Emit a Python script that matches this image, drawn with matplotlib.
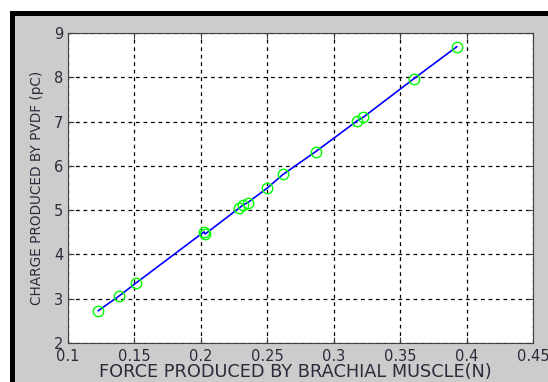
import numpy as np
import matplotlib.pyplot as plt
from matplotlib.patches import Rectangle

# force (N) vs charge (pC) measured on the PVDF sensor
force = [0.1228, 0.1384, 0.1512, 0.2024, 0.2032, 0.2285, 0.2320, 0.2353,
         0.2496, 0.2620, 0.2864, 0.3178, 0.3223, 0.3604, 0.3926]
charge = [2.73, 3.06, 3.355, 4.51, 4.46, 5.04, 5.12, 5.17,
          5.49, 5.81, 6.32, 7.02, 7.10, 7.97, 8.69]

xticks = [0.1, 0.15, 0.2, 0.25, 0.3, 0.35, 0.4, 0.45]
xticklabels = ['0.1', '0.15', '0.2', '0.25', '0.3', '0.35', '0.4', '0.45']
yticks = [2, 3, 4, 5, 6, 7, 8, 9]

plt.rcParams['font.family'] = ['DejaVu Sans']
txt = '#2b2b3b'

W, H = 548, 382
fig = plt.figure(figsize=(W / 100, H / 100), dpi=100, facecolor='white')

# grey window background with a black frame on top and left
fig.patches.append(Rectangle((10 / W, 0), 1, 1 - 11 / H, transform=fig.transFigure,
                             facecolor='#cccccc', edgecolor='none', zorder=-10))
fig.patches.append(Rectangle((10 / W, 0), 5 / W, 1 - 11 / H, transform=fig.transFigure,
                             facecolor='black', edgecolor='none', zorder=-9))
fig.patches.append(Rectangle((10 / W, 1 - 16 / H), 1, 5 / H, transform=fig.transFigure,
                             facecolor='black', edgecolor='none', zorder=-9))

ax = fig.add_axes([68 / W, 39 / H, 465 / W, 310 / H])
ax.set_facecolor('white')

ax.plot(force, charge, color='#0000ff', lw=1.2, zorder=3)
ax.plot(force, charge, ls='none', marker='o', ms=7.5, mfc='none', mec='#00ff00',
        mew=1.0, zorder=4)

ax.set_xlim(0.1, 0.45)
ax.set_ylim(2, 9)
ax.set_xticks(xticks)
ax.set_xticklabels(xticklabels)
ax.set_yticks(yticks)

ax.grid(True, color='black', ls=(0, (3, 3)), lw=0.9)
ax.tick_params(direction='in', top=True, right=True, length=4, width=0.8,
               colors='#404040', labelcolor=txt, labelsize=10.5)
ax.tick_params(axis='x', pad=4.0)
ax.tick_params(axis='y', pad=3.5)
for s in ax.spines.values():
    s.set_color('#404040')
    s.set_linewidth(0.8)

ax.set_xlabel('FORCE PRODUCED BY BRACHIAL MUSCLE(N)', fontsize=12.8, color=txt)
ax.set_ylabel('CHARGE PRODUCED BY PVDF (pC)', fontsize=9.8, color=txt)
ax.xaxis.set_label_coords(0.49, -0.066)
ax.yaxis.set_label_coords(-0.052, 0.5)

fig.savefig('out.png', dpi=100, facecolor=fig.get_facecolor())
